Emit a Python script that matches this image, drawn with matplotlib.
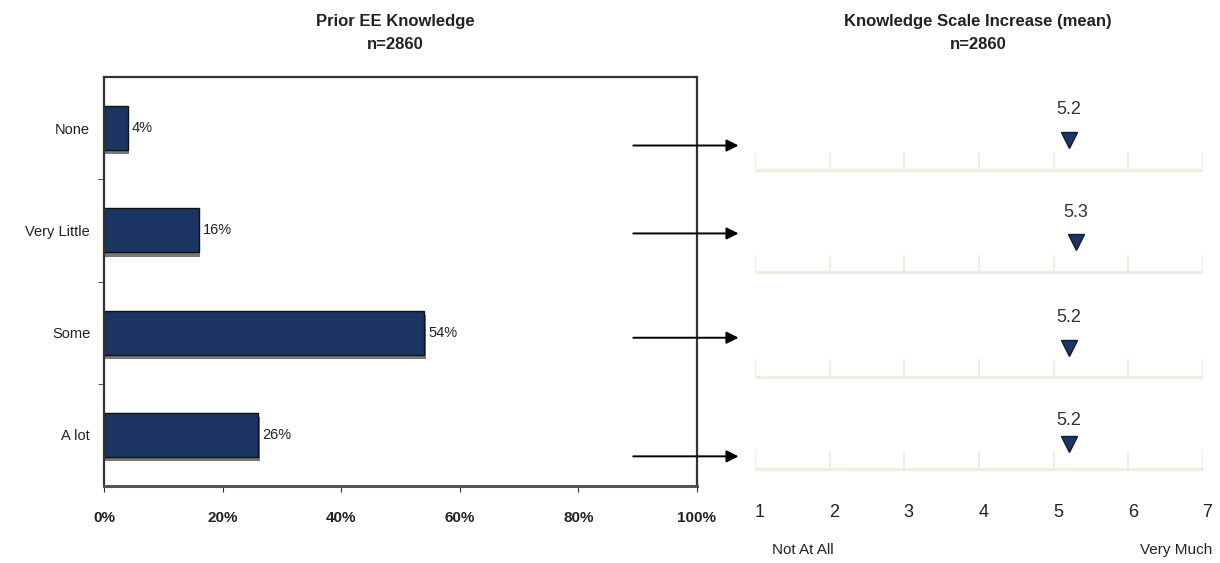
import matplotlib.pyplot as plt
import matplotlib.patheffects as pe

# prior knowledge distribution
categories = ['None', 'Very Little', 'Some', 'A lot']
shares = [4, 16, 54, 26]

# mean knowledge increase per group (1-7 scale)
means = [5.2, 5.3, 5.2, 5.2]
scale_ticks = [1, 2, 3, 4, 5, 6, 7]

NAVY = '#1c3461'
narrow = ['Liberation Sans', 'DejaVu Sans']
plain = ['Liberation Sans', 'DejaVu Sans']

fig = plt.figure(figsize=(12.2, 5.63), dpi=100)

# ---- left: bar chart
ax = fig.add_axes([104/1220, 1-486/563, 593/1220, 409/563])
bars = ax.barh(range(len(categories)), shares, height=0.43, color=NAVY,
               edgecolor='#111111', linewidth=1)
for b in bars:
    b.set_path_effects([pe.SimplePatchShadow(offset=(1, -3), shadow_rgbFace='#777777', alpha=1), pe.Normal()])
for i, v in enumerate(shares):
    ax.text(v + 0.7, i, f'{v}%', va='center', ha='left', fontsize=10.5,
            family=narrow, color='#222222')
ax.set_xlim(0, 100)
ax.set_ylim(3.5, -0.5)
ax.set_xticks(range(0, 101, 20))
ax.set_xticklabels([f'{t}%' for t in range(0, 101, 20)], family=narrow,
                   fontsize=11, fontweight='bold', color='#222222')
ax.set_yticks(range(len(categories)))
ax.set_yticklabels(categories, family=narrow, fontsize=10.5, color='#222222')
ax.set_yticks([0.5, 1.5, 2.5], minor=True)
ax.tick_params(axis='y', which='major', length=0, pad=10)
ax.tick_params(axis='y', which='minor', length=4, direction='out', color='#333333')
ax.tick_params(axis='x', length=4, direction='out', color='#333333', pad=14)
for s in ax.spines.values():
    s.set_color('#333333')
    s.set_linewidth(1.6)
ax.spines['bottom'].set_linewidth(2.2)
ax.spines['bottom'].set_color('#555555')
fig.text(395/1220, 1-33/563, 'Prior EE Knowledge\nn=2860', ha='center', va='center',
         family=narrow, fontsize=12, fontweight='bold', color='#222222', linespacing=1.6)

# ---- right: mean scale per group
axr = fig.add_axes([755/1220, 1-486/563, 448/1220, 409/563])
axr.set_xlim(1, 7)
axr.set_ylim(3.5, -0.5)
axr.axis('off')

base_off = [0.41, 0.41, 0.43, 0.33]
mark_off = [0.12, 0.11, 0.15, 0.09]
lab_off = [-0.18, -0.17, -0.15, -0.14]
arrow_off = [0.17, 0.03, 0.05, 0.21]
line_col = '#eeeee2'

for i, m in enumerate(means):
    yb = i + base_off[i]
    axr.plot([1, 7], [yb, yb], color=line_col, lw=2.5, solid_capstyle='butt')
    axr.vlines(scale_ticks, yb - 0.17, yb, color=line_col, lw=1.5)
    axr.plot([m], [i + mark_off[i]], marker='v', ms=11, color=NAVY,
             markeredgecolor='#0d1d3a', clip_on=False)
    axr.text(m, i + lab_off[i], f'{m}', ha='center', va='center', fontsize=13,
             family=plain, color='#333333')
    ya = i + arrow_off[i]
    axr.annotate('', xy=(0.78, ya), xytext=(-0.63, ya),
                 arrowprops=dict(arrowstyle='-|>', color='black', lw=1.4,
                                 mutation_scale=18, shrinkA=0, shrinkB=0),
                 annotation_clip=False)

for t in scale_ticks:
    axr.text(t + 0.06, 3.76, str(t), ha='center', va='center', fontsize=13,
             family=plain, color='#222222', clip_on=False)
axr.text(1.23, 4.13, 'Not At All', ha='left', va='center', fontsize=11,
         family=narrow, color='#222222', clip_on=False)
axr.text(7.13, 4.13, 'Very Much', ha='right', va='center', fontsize=11,
         family=narrow, color='#222222', clip_on=False)
fig.text(978/1220, 1-33/563, 'Knowledge Scale Increase (mean)\nn=2860', ha='center',
         va='center', family=narrow, fontsize=12, fontweight='bold', color='#222222',
         linespacing=1.6)

fig.savefig('out.png', dpi=100)
